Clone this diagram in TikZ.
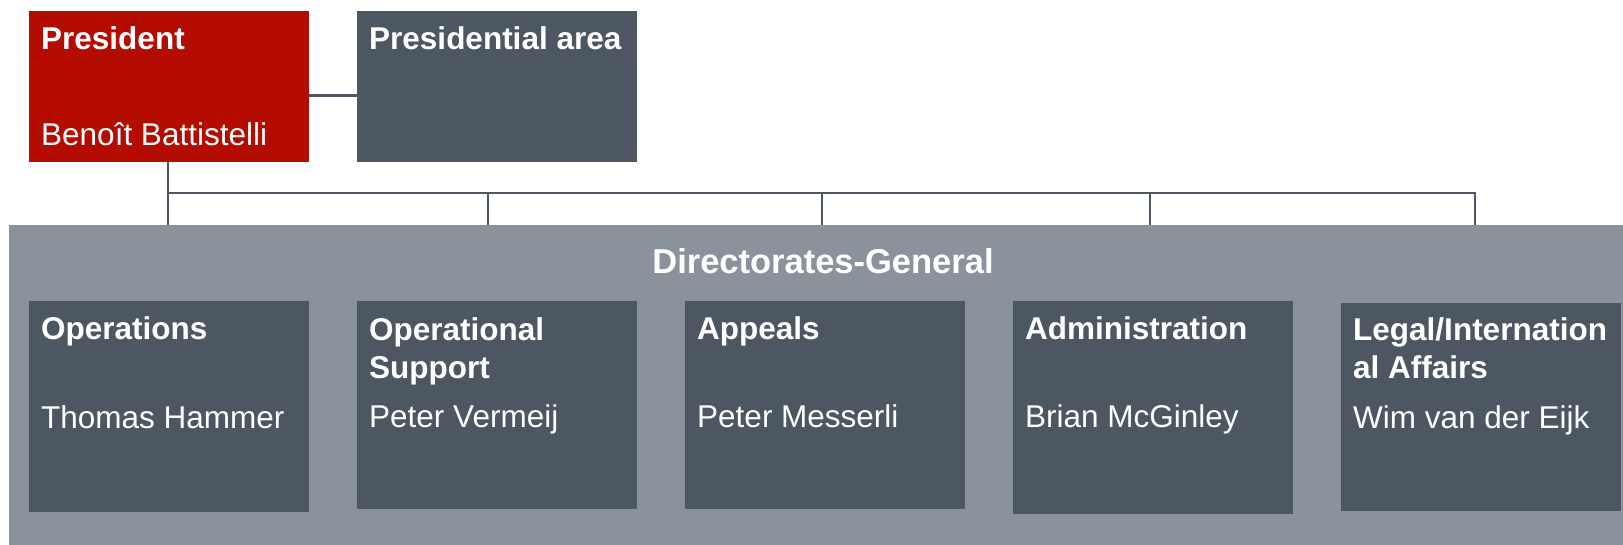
\documentclass[tikz,border=0pt]{standalone}
\usepackage{fontspec}
\setmainfont{Liberation Sans}
\definecolor{presred}{RGB}{180,12,0}
\definecolor{darkbox}{RGB}{77,87,97}
\definecolor{midgray}{RGB}{138,147,155}
\definecolor{linecol}{RGB}{77,87,97}
\tikzset{
  unitbox/.style={draw=none, inner sep=0pt, outer sep=0pt, anchor=north west,
    minimum width=280pt},
  title/.style={anchor=base west, inner sep=0pt, text=white,
    font=\fontsize{31.5}{38}\selectfont\bfseries, align=left},
  person/.style={anchor=base west, inner sep=0pt, text=white,
    font=\fontsize{31.5}{38}\selectfont},
  dgtitle/.style={anchor=base, inner sep=0pt, text=white,
    font=\fontsize{34.5}{40}\selectfont\bfseries},
  conn/.style={draw=linecol, line width=2.7pt},
}
\begin{document}
\begin{tikzpicture}[x=1pt,y=-1pt]
\useasboundingbox (0,0) rectangle (1623,545);
% top row
\node[unitbox, fill=presred, minimum height=151pt] (pres) at (29,11) {};
\node[unitbox, fill=darkbox, minimum height=151pt] (parea) at (357,11) {};
% directorates-general
\node[draw=none, fill=midgray, inner sep=0pt, outer sep=0pt, anchor=north west,
  minimum width=1614pt, minimum height=320pt] (dg) at (9,225) {};
\node[dgtitle] (dgt) at (823,274) {Directorates-General};
% sub boxes
\node[unitbox, fill=darkbox, minimum height=211pt] (ops) at (29,301) {};
\node[unitbox, fill=darkbox, minimum height=208pt] (opsup) at (357,301) {};
\node[unitbox, fill=darkbox, minimum height=208pt] (app) at (685,301) {};
\node[unitbox, fill=darkbox, minimum height=213pt] (adm) at (1013,301) {};
\node[unitbox, fill=darkbox, minimum height=208pt] (leg) at (1341,303) {};
% texts (two-line titles: base = baseline of the last line)
\node[title] (tpres) at ([shift={(12,39)}]pres.north west) {President};
\node[person] (npres) at ([shift={(12,135)}]pres.north west) {Benoît Battistelli};
\node[title] (tparea) at ([shift={(12,39)}]parea.north west) {Presidential area};
\node[title] (tops) at ([shift={(12,39)}]ops.north west) {Operations};
\node[person] (nops) at ([shift={(12,127)}]ops.north west) {Thomas Hammer};
\node[title] (topsup) at ([shift={(12,77)}]opsup.north west) {Operational\\Support};
\node[person] (nopsup) at ([shift={(12,126)}]opsup.north west) {Peter Vermeij};
\node[title] (tapp) at ([shift={(12,39)}]app.north west) {Appeals};
\node[person] (napp) at ([shift={(12,126)}]app.north west) {Peter Messerli};
\node[title] (tadm) at ([shift={(12,39)}]adm.north west) {Administration};
\node[person] (nadm) at ([shift={(12,126)}]adm.north west) {Brian McGinley};
\node[title] (tleg) at ([shift={(12,75)}]leg.north west) {Legal/Internation\\al Affairs};
\node[person] (nleg) at ([shift={(12,125)}]leg.north west) {Wim van der Eijk};
% connectors
\draw[conn] ([yshift=-9pt]pres.east) -- ([yshift=-9pt]parea.west);
\coordinate (d1) at (168,193);
\coordinate (d2) at (488,193);
\coordinate (d3) at (822,193);
\coordinate (d4) at (1150,193);
\coordinate (d5) at (1475,193);
\draw[conn] (pres.south -| d1) -- (dg.north -| d1);
\draw[conn] ([xshift=-1.35pt]d1) -- ([xshift=1.35pt]d5);
\foreach \d in {d2,d3,d4,d5}{
  \draw[conn] ([yshift=1.35pt]\d) -- (dg.north -| \d);
}
\end{tikzpicture}
\end{document}
